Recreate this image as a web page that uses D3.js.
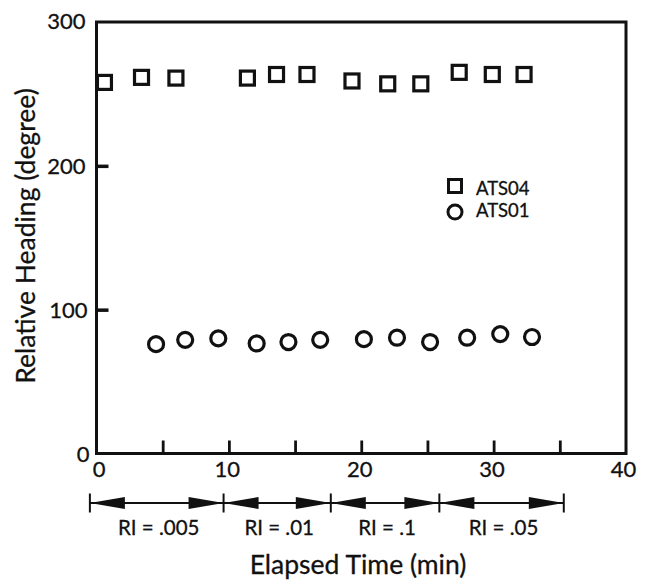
<!DOCTYPE html>
<html><head><meta charset="utf-8">
<script src="https://cdn.jsdelivr.net/npm/d3@7"></script>
<style>
body{margin:0;background:#fff;}
text{font-family:"Lato","DejaVu Sans",sans-serif;fill:#111;stroke:#111;stroke-width:0.3px;}
</style></head>
<body><svg id="c" width="649" height="581"></svg>
<script>
const ats04Time = [0.6, 3.4, 6.0, 11.4, 13.6, 15.9, 19.3, 22.0, 24.5, 27.4, 29.9, 32.3];
const ats04Heading = [258, 261.5, 261, 261, 263.5, 263.5, 259, 257, 257, 265, 263.5, 263.5];
const ats01Time = [4.5, 6.7, 9.2, 12.1, 14.5, 16.9, 20.2, 22.7, 25.2, 28.0, 30.5, 32.9];
const ats01Heading = [76, 79, 80, 76.5, 77.5, 79, 79.5, 80.5, 77.5, 80.5, 83, 81];
const xTickLabels = [0, 10, 20, 30, 40];
const xInnerTicks = [5, 10, 15, 20, 25, 30, 35];
const yTickLabels = [0, 100, 200, 300];
const yInnerTicks = [100, 200];
const riBounds = [-0.5, 9.6, 17.7, 25.9, 35.3];
const riLabels = ["RI = .005", "RI = .01", "RI = .1", "RI = .05"];
const seriesNames = ["ATS04", "ATS01"];

const svg = d3.select("#c");
const L = 96.5, R = 626, T = 22, B = 453.5;
const x = d3.scaleLinear().domain([0, 40]).range([L, R]);
const y = d3.scaleLinear().domain([0, 300]).range([B, T]);

// frame
svg.append("rect").attr("x", L).attr("y", T).attr("width", R - L).attr("height", B - T)
  .attr("fill", "none").attr("stroke", "#111").attr("stroke-width", 3);

// inner ticks
const xt = svg.append("g").attr("transform", `translate(0,${B})`)
  .call(d3.axisBottom(x).tickValues(xInnerTicks).tickSize(-13).tickFormat(""));
xt.select(".domain").remove();
xt.selectAll("line").attr("stroke", "#111").attr("stroke-width", 2.8);
const yt = svg.append("g").attr("transform", `translate(${L},0)`)
  .call(d3.axisLeft(y).tickValues(yInnerTicks).tickSize(-12).tickFormat(""));
yt.select(".domain").remove();
yt.selectAll("line").attr("stroke", "#111").attr("stroke-width", 3.5);

// tick labels
const xl = svg.append("g").attr("transform", `translate(0,${B})`)
  .call(d3.axisBottom(x).tickValues(xTickLabels).tickSize(0).tickFormat(d3.format("d")));
xl.select(".domain").remove();
xl.selectAll("text").attr("font-size", 22).attr("fill", "#111")
  .attr("y", 23.5).attr("dy", 0).attr("dx", d => d === 0 ? 2 : (d === 40 ? -3 : -2));
const yl = svg.append("g").attr("transform", `translate(${L},0)`)
  .call(d3.axisLeft(y).tickValues(yTickLabels).tickSize(0).tickPadding(11).tickFormat(d3.format("d")));
yl.select(".domain").remove();
yl.selectAll("text").attr("font-size", 22).attr("fill", "#111")
  .attr("dy", d => d === 0 ? "0.38em" : (d === 300 ? "0.28em" : "0.36em"))
  .attr("dx", d => d === 0 ? 4 : (d === 100 ? 2 : 0));

// markers
svg.append("g").selectAll("rect").data(ats04Time.map((t, i) => [t, ats04Heading[i]])).join("rect")
  .attr("x", d => x(d[0]) - 7).attr("y", d => y(d[1]) - 7).attr("width", 14).attr("height", 14)
  .attr("fill", "none").attr("stroke", "#111").attr("stroke-width", 3.2);
svg.append("g").selectAll("circle").data(ats01Time.map((t, i) => [t, ats01Heading[i]])).join("circle")
  .attr("cx", d => x(d[0])).attr("cy", d => y(d[1])).attr("r", 7.5)
  .attr("fill", "none").attr("stroke", "#111").attr("stroke-width", 3.2);

// legend
const lg = svg.append("g");
lg.append("rect").attr("x", 448.5).attr("y", 179.5).attr("width", 13).attr("height", 13)
  .attr("fill", "none").attr("stroke", "#111").attr("stroke-width", 3);
lg.append("circle").attr("cx", 455).attr("cy", 212).attr("r", 7)
  .attr("fill", "none").attr("stroke", "#111").attr("stroke-width", 3);
lg.append("text").attr("x", 476).attr("y", 195).attr("font-size", 18.5).text(seriesNames[0]);
lg.append("text").attr("x", 476).attr("y", 216.5).attr("font-size", 18.5).text(seriesNames[1]);

// RI arrows
const ay = 503, tl = 35, th = 6;
const ar = svg.append("g");
riBounds.forEach(b => {
  ar.append("line").attr("x1", x(b)).attr("x2", x(b)).attr("y1", ay - 9.5).attr("y2", ay + 9.5)
    .attr("stroke", "#111").attr("stroke-width", 2);
});
for (let i = 0; i < riLabels.length; i++) {
  const a = x(riBounds[i]), b = x(riBounds[i + 1]);
  ar.append("line").attr("x1", a).attr("x2", b).attr("y1", ay).attr("y2", ay)
    .attr("stroke", "#111").attr("stroke-width", 1.8);
  ar.append("path").attr("d", `M${a},${ay}L${a + tl},${ay - th}L${a + tl},${ay + th}Z`).attr("fill", "#111");
  ar.append("path").attr("d", `M${b},${ay}L${b - tl},${ay - th}L${b - tl},${ay + th}Z`).attr("fill", "#111");
  ar.append("text").attr("x", (a + b) / 2 + 2).attr("y", 535).attr("text-anchor", "middle")
    .attr("font-size", 20.5).text(riLabels[i]);
}

// axis titles
svg.append("text").attr("x", 358).attr("y", 574).attr("text-anchor", "middle")
  .attr("font-size", 26.5).text("Elapsed Time (min)");
svg.append("text").attr("transform", "translate(35,236) rotate(-90)").attr("text-anchor", "middle")
  .attr("font-size", 26.5).text("Relative Heading (degree)");
</script></body></html>
